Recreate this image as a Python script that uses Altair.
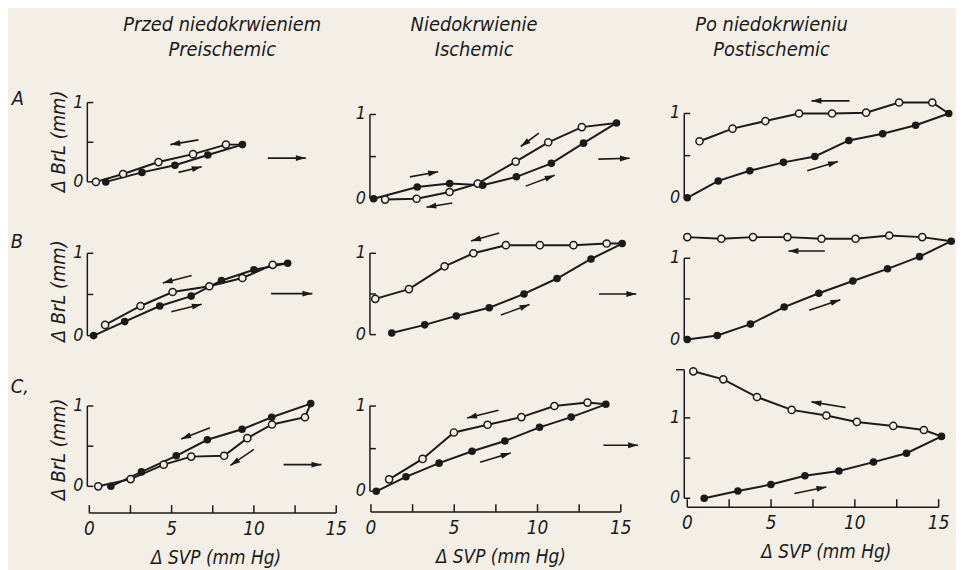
import math
import altair as alt
import pandas as pd

# ---------------- data ----------------
# x = delta SVP (mm Hg), y = delta BrL (mm); filled = rising, open = falling
A1_fx = [1.0, 3.2, 5.2, 7.2, 9.3]
A1_fy = [0.0, 0.12, 0.21, 0.34, 0.47]
A1_ox = [0.4, 2.05, 4.2, 6.3, 8.3]
A1_oy = [0.0, 0.10, 0.25, 0.35, 0.47]
A1_arrows = [(6.63, 0.53, 4.92, 0.47), (5.42, 0.12, 6.83, 0.19), (10.84, 0.30, 13.15, 0.30)]

A2_fx = [0.16, 2.78, 4.72, 6.71, 8.73, 10.83, 12.76, 14.74]
A2_fy = [0.0, 0.14, 0.18, 0.16, 0.26, 0.42, 0.66, 0.90]
A2_ox = [0.85, 2.74, 4.72, 6.41, 8.69, 10.64, 12.66]
A2_oy = [-0.01, 0.0, 0.08, 0.18, 0.44, 0.67, 0.85]
A2_arrows = [(2.34, 0.26, 4.03, 0.32), (4.88, -0.05, 3.33, -0.10), (10.08, 0.78, 8.99, 0.62),
             (9.29, 0.15, 11.03, 0.28), (13.65, 0.47, 15.54, 0.48)]

A3_fx = [0.0, 1.85, 3.73, 5.74, 7.61, 9.64, 11.66, 13.63, 15.6]
A3_fy = [0.0, 0.20, 0.32, 0.42, 0.49, 0.68, 0.76, 0.86, 1.0]
A3_ox = [0.73, 2.7, 4.66, 6.67, 8.64, 10.67, 12.64, 14.62]
A3_oy = [0.67, 0.82, 0.91, 1.0, 1.0, 1.01, 1.13, 1.13]
A3_arrows = [(9.68, 1.15, 7.41, 1.15), (7.16, 0.32, 8.99, 0.43)]

B1_fx = [0.26, 2.15, 4.28, 6.19, 8.03, 10.0, 12.05]
B1_fy = [0.0, 0.17, 0.36, 0.48, 0.67, 0.80, 0.88]
B1_ox = [0.96, 3.11, 5.06, 7.29, 9.3, 11.14]
B1_oy = [0.13, 0.36, 0.53, 0.60, 0.70, 0.86]
B1_arrows = [(6.22, 0.73, 4.46, 0.64), (4.98, 0.29, 6.83, 0.38), (11.04, 0.51, 13.55, 0.51)]

B2_fx = [1.25, 3.23, 5.12, 7.1, 9.19, 11.17, 13.21, 15.08]
B2_fy = [0.02, 0.12, 0.23, 0.33, 0.50, 0.69, 0.93, 1.12]
B2_ox = [0.26, 2.28, 4.42, 6.15, 8.1, 10.14, 12.16, 14.15]
B2_oy = [0.44, 0.56, 0.84, 1.0, 1.1, 1.1, 1.1, 1.12]
B2_arrows = [(7.7, 1.25, 6.01, 1.15), (7.8, 0.24, 9.52, 0.37), (13.69, 0.50, 15.93, 0.50)]

B3_fx = [0.0, 1.79, 3.77, 5.78, 7.85, 9.88, 11.95, 13.86, 15.75]
B3_fy = [0.0, 0.05, 0.19, 0.40, 0.57, 0.72, 0.87, 1.02, 1.21]
B3_ox = [0.0, 2.03, 3.92, 5.98, 8.01, 10.04, 12.05, 14.02]
B3_oy = [1.26, 1.24, 1.26, 1.26, 1.24, 1.24, 1.28, 1.26]
B3_arrows = [(8.21, 1.09, 6.04, 1.09), (7.28, 0.36, 9.13, 0.49)]

C1_fx = [1.31, 3.17, 5.28, 7.17, 9.28, 11.08, 13.45]
C1_fy = [0.0, 0.18, 0.38, 0.58, 0.71, 0.86, 1.03]
C1_ox = [0.54, 2.51, 4.52, 6.19, 8.19, 9.6, 11.1, 13.1]
C1_oy = [0.0, 0.09, 0.27, 0.37, 0.38, 0.60, 0.77, 0.86]
C1_arrows = [(7.33, 0.73, 5.58, 0.59), (10.0, 0.46, 8.57, 0.26), (11.8, 0.27, 14.1, 0.27)]

C2_fx = [0.32, 2.1, 4.09, 6.07, 8.04, 10.12, 12.02, 14.1]
C2_fy = [0.0, 0.17, 0.33, 0.47, 0.59, 0.75, 0.87, 1.02]
C2_ox = [1.09, 3.1, 4.98, 7.0, 9.03, 11.01, 13.0]
C2_oy = [0.14, 0.38, 0.69, 0.78, 0.87, 1.0, 1.04]
C2_arrows = [(7.66, 0.95, 5.77, 0.86), (6.55, 0.34, 8.39, 0.45), (13.95, 0.54, 16.03, 0.54)]

C3_fx = [1.01, 3.02, 4.99, 7.02, 9.05, 11.11, 13.08, 15.17]
C3_fy = [0.0, 0.09, 0.17, 0.28, 0.34, 0.45, 0.56, 0.77]
C3_ox = [0.36, 2.15, 4.16, 6.23, 8.3, 10.12, 12.29, 14.12]
C3_oy = [1.58, 1.48, 1.26, 1.10, 1.03, 0.95, 0.90, 0.85]
C3_arrows = [(9.45, 1.13, 7.41, 1.20), (6.39, 0.06, 8.30, 0.14)]

Y_TICKS = [0, 0.5, 1]
Y_LABELS = [0, 1]
X_TICKS = [0, 2.5, 5, 7.5, 10, 12.5, 15]
X_LABELS = [0, 5, 10, 15]
ROW_LABELS = {"A": "A", "B": "B", "C": "C,"}
COL_TITLES = {1: ("Przed niedokrwieniem", "Preischemic"),
              2: ("Niedokrwienie", "Ischemic"),
              3: ("Po niedokrwieniu", "Postischemic")}
Y_TITLE = "\u0394 BrL (mm)"
X_TITLE = "\u0394 SVP (mm Hg)"

# ---------------- layout / style ----------------
W, H = 956, 562
BG = "#f3efe7"
FONT = "Liberation Sans Narrow, DejaVu Sans Condensed, Roboto Condensed, DejaVu Sans"
INK = "#1a1a1a"

COL_X = {1: (90, 16.6, -0.12), 2: (374, 16.8, -0.06), 3: (693, 16.9, -0.18)}
PANEL_Y = {"A1": (181, 80), "A2": (198, 85), "A3": (197, 85),
           "B1": (336, 83), "B2": (335, 82), "B3": (340, 82),
           "C1": (488, 81), "C2": (493, 86), "C3": (500, 81)}
Y_TOP = {"C3": 1.6}
XAXIS_Y = {"C1": -0.333, "C2": -0.244, "C3": -0.111}
XTITLE_X = {"C1": 7.7, "C2": 7.8, "C3": 8.3}
YTITLE_POS = {"A1": (-1.85, 0.51), "B1": (-1.85, 0.54), "C1": (-1.85, 0.46)}
ROWLAB_PX = {"A": (10, 89), "B": (9, 234), "C": (12, 380)}
TITLE_PX = {1: (216, 15, 40), 2: (470, 15, 40), 3: (770, 15, 40)}

ARROW_PATH = "M0,0L-1,-0.3L-1,0.3Z"

PANELS = {
    "A1": (A1_fx, A1_fy, A1_ox, A1_oy, A1_arrows),
    "A2": (A2_fx, A2_fy, A2_ox, A2_oy, A2_arrows),
    "A3": (A3_fx, A3_fy, A3_ox, A3_oy, A3_arrows),
    "B1": (B1_fx, B1_fy, B1_ox, B1_oy, B1_arrows),
    "B2": (B2_fx, B2_fy, B2_ox, B2_oy, B2_arrows),
    "B3": (B3_fx, B3_fy, B3_ox, B3_oy, B3_arrows),
    "C1": (C1_fx, C1_fy, C1_ox, C1_oy, C1_arrows),
    "C2": (C2_fx, C2_fy, C2_ox, C2_oy, C2_arrows),
    "C3": (C3_fx, C3_fy, C3_ox, C3_oy, C3_arrows),
}


def text_mark(**kw):
    base = dict(font=FONT, fontStyle="italic", color=INK)
    base.update(kw)
    return base


def build_panel(key):
    fx, fy, ox, oy, arrows = PANELS[key]
    col = int(key[1])
    X0, kx, yax = COL_X[col]
    Y0, ky = PANEL_Y[key]
    xmin = -(X0 - 8) / kx
    ymax = (Y0 - 8) / ky
    xs = alt.Scale(domain=[xmin, xmin + W / kx], nice=False, zero=False)
    ys = alt.Scale(domain=[ymax - H / ky, ymax], nice=False, zero=False)

    def ex(f):
        return alt.X(f, type="quantitative", scale=xs, axis=None)

    def ey(f):
        return alt.Y(f, type="quantitative", scale=ys, axis=None)

    layers = []
    ytop = Y_TOP.get(key, 1.0)
    # y axis line, inward ticks, labels
    layers.append(alt.Chart(pd.DataFrame({"x": [yax], "y": [0.0], "y2": [ytop]}))
                  .mark_rule(color=INK, strokeWidth=1.5)
                  .encode(x=ex("x"), y=ey("y"), y2="y2"))
    tick_len = 6 / kx
    ticks = pd.DataFrame({"x": [yax] * len(Y_TICKS), "x2": [yax + tick_len] * len(Y_TICKS), "y": Y_TICKS})
    if key == "C3":
        ticks = pd.concat([ticks, pd.DataFrame({"x": [yax - tick_len * 1.4], "x2": [yax], "y": [ytop]})])
    layers.append(alt.Chart(ticks).mark_rule(color=INK, strokeWidth=1.5)
                  .encode(x=ex("x"), x2="x2", y=ey("y")))
    layers.append(alt.Chart(pd.DataFrame({"x": [yax] * len(Y_LABELS), "y": Y_LABELS,
                                          "t": [str(v) for v in Y_LABELS]}))
                  .mark_text(**text_mark(fontSize=18, align="right", baseline="middle", dx=-4))
                  .encode(x=ex("x"), y=ey("y"), text="t:N"))
    if key in YTITLE_POS:
        tx, ty = YTITLE_POS[key]
        layers.append(alt.Chart(pd.DataFrame({"x": [tx], "y": [ty], "t": [Y_TITLE]}))
                      .mark_text(**text_mark(fontSize=20, angle=270, align="center", baseline="middle"))
                      .encode(x=ex("x"), y=ey("y"), text="t:N"))
    if key in XAXIS_Y:
        ay = XAXIS_Y[key]
        layers.append(alt.Chart(pd.DataFrame({"x": [0.0], "x2": [15.0], "y": [ay]}))
                      .mark_rule(color=INK, strokeWidth=1.5)
                      .encode(x=ex("x"), x2="x2", y=ey("y")))
        layers.append(alt.Chart(pd.DataFrame({"x": X_TICKS, "y": [ay] * len(X_TICKS),
                                              "y2": [ay + 8 / ky] * len(X_TICKS)}))
                      .mark_rule(color=INK, strokeWidth=1.5)
                      .encode(x=ex("x"), y=ey("y"), y2="y2"))
        layers.append(alt.Chart(pd.DataFrame({"x": X_LABELS, "y": [ay] * len(X_LABELS),
                                              "t": [str(v) for v in X_LABELS]}))
                      .mark_text(**text_mark(fontSize=19, align="center", baseline="middle", dy=16))
                      .encode(x=ex("x"), y=ey("y"), text="t:N"))
        layers.append(alt.Chart(pd.DataFrame({"x": [XTITLE_X[key]], "y": [ay], "t": [X_TITLE]}))
                      .mark_text(**text_mark(fontSize=19, align="center", baseline="middle", dy=45))
                      .encode(x=ex("x"), y=ey("y"), text="t:N"))

    # arrows
    rows = []
    for (x1, y1, x2, y2) in arrows:
        ang = math.degrees(math.atan2(-(y2 - y1) * ky, (x2 - x1) * kx)) % 360
        rows.append({"x1": x1, "y1": y1, "x2": x2, "y2": y2, "ang": ang})
    adf = pd.DataFrame(rows)
    layers.append(alt.Chart(adf).mark_rule(color=INK, strokeWidth=1.6)
                  .encode(x=ex("x1"), y=ey("y1"), x2="x2", y2="y2"))
    layers.append(alt.Chart(adf).mark_point(shape=ARROW_PATH, filled=True, color=INK, size=400,
                                            opacity=1, strokeWidth=0)
                  .encode(x=ex("x2"), y=ey("y2"), angle=alt.Angle("ang:Q", scale=None)))

    # data lines: rising (filled) and falling (open, starting at the peak)
    fdf = pd.DataFrame({"x": fx, "y": fy, "i": list(range(len(fx)))})
    oxl = [fx[-1]] + list(reversed(ox))
    oyl = [fy[-1]] + list(reversed(oy))
    odf_line = pd.DataFrame({"x": oxl, "y": oyl, "i": list(range(len(oxl)))})
    odf = pd.DataFrame({"x": ox, "y": oy})
    layers.append(alt.Chart(fdf).mark_line(color=INK, strokeWidth=2)
                  .encode(x=ex("x"), y=ey("y"), order="i:Q"))
    layers.append(alt.Chart(odf_line).mark_line(color=INK, strokeWidth=2)
                  .encode(x=ex("x"), y=ey("y"), order="i:Q"))
    layers.append(alt.Chart(odf).mark_point(shape="circle", filled=True, fill=BG, stroke=INK,
                                            strokeWidth=1.5, size=52, opacity=1)
                  .encode(x=ex("x"), y=ey("y")))
    layers.append(alt.Chart(fdf).mark_point(shape="circle", filled=True, color=INK, size=58, opacity=1)
                  .encode(x=ex("x"), y=ey("y")))
    return alt.layer(*layers)


panels = [build_panel(k) for k in PANELS]

extras = []
for col, (l1, l2) in COL_TITLES.items():
    cx, y1, y2 = TITLE_PX[col]
    for txt, yy in ((l1, y1), (l2, y2)):
        extras.append(alt.Chart(pd.DataFrame({"t": [txt]}))
                      .mark_text(**text_mark(fontSize=20, align="center", baseline="middle"))
                      .encode(x=alt.value(cx), y=alt.value(yy), text="t:N"))
for r, lab in ROW_LABELS.items():
    px, py = ROWLAB_PX[r]
    extras.append(alt.Chart(pd.DataFrame({"t": [lab]}))
                  .mark_text(**text_mark(fontSize=20, align="center", baseline="middle"))
                  .encode(x=alt.value(px), y=alt.value(py), text="t:N"))

chart = (
    alt.layer(*panels, *extras)
    .resolve_scale(x="independent", y="independent")
    .properties(width=W, height=H, autosize=alt.AutoSizeParams(type="none"), padding=0, background=BG)
    .configure_view(stroke=None)
)

chart.save("out.html", embed_options={"renderer": "svg", "actions": False})
